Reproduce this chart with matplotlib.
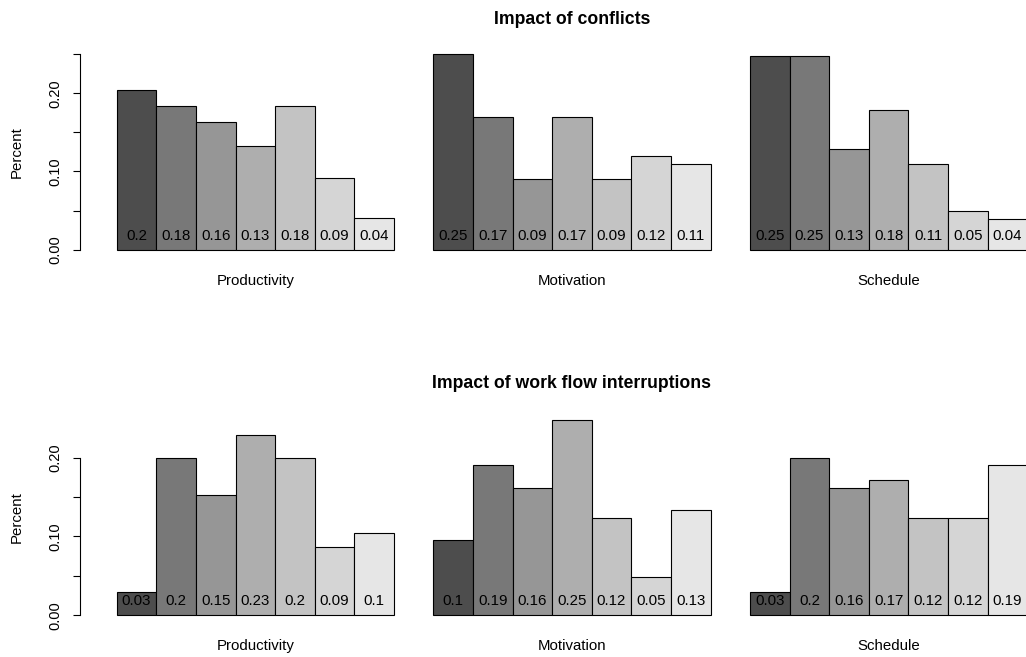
import numpy as np
import matplotlib
matplotlib.use("Agg")
import matplotlib.pyplot as plt

plt.rcParams['font.family'] = ['Liberation Sans', 'DejaVu Sans']

# share of answers per scale point (7-point scale)
aspects = ["Productivity", "Motivation", "Schedule"]

conf_prod = [0.204, 0.184, 0.163, 0.133, 0.184, 0.092, 0.041]
conf_motiv = [0.25, 0.17, 0.09, 0.17, 0.09, 0.12, 0.11]
conf_sched = [0.248, 0.248, 0.129, 0.178, 0.109, 0.049, 0.039]

intr_prod = [0.029, 0.200, 0.152, 0.229, 0.200, 0.086, 0.104]
intr_motiv = [0.096, 0.190, 0.162, 0.248, 0.124, 0.048, 0.133]
intr_sched = [0.029, 0.200, 0.162, 0.171, 0.124, 0.124, 0.190]

titles = ["Impact of conflicts", "Impact of work flow interruptions"]
rows = [[conf_prod, conf_motiv, conf_sched],
        [intr_prod, intr_motiv, intr_sched]]

W, H = 1026, 657
fig = plt.figure(figsize=(W / 100, H / 100), dpi=100)

# gray.colors(7) like R: 0.3 .. 0.9 with gamma 2.2
lv = np.linspace(0.3 ** 2.2, 0.9 ** 2.2, 7) ** (1 / 2.2)
cols = [(g, g, g) for g in lv]

bar_w = 39.6
lefts = [116.7, 433.3, 750.0]
bottoms = [249.7, 615.3]
ax_h = 195.6
title_y = [19, 384]
fs = 10.8


def fx(px):
    return px / W


def fy(py):
    return 1 - py / H


for r, row in enumerate(rows):
    ymax = max(max(v) for v in row)
    for c, vals in enumerate(row):
        ax = fig.add_axes([fx(lefts[c]), fy(bottoms[r]),
                           7 * bar_w / W, ax_h / H])
        x = np.arange(len(vals))
        bars = ax.bar(x, vals, width=1.0, align='edge', color=cols,
                      edgecolor='black', linewidth=0.8)
        for b in bars:
            b.set_clip_on(False)
        for i, v in enumerate(vals):
            ax.text(i + 0.5, 0.018, f"{round(v, 2):g}", ha='center',
                    va='center', fontsize=fs)
        ax.set_xlim(0, 7)
        ax.set_ylim(0, ymax)
        ax.set_xticks([])
        for s in ['top', 'right', 'bottom']:
            ax.spines[s].set_visible(False)
        if c == 0:
            ticks = np.arange(0, ymax + 1e-9, 0.05)
            ax.spines['left'].set_position(('outward', 26.4))
            ax.spines['left'].set_bounds(0, ticks[-1])
            ax.spines['left'].set_linewidth(0.8)
            ax.set_yticks(ticks)
            ax.set_yticklabels([f"{t:.2f}" if i % 2 == 0 else ""
                                for i, t in enumerate(ticks)],
                               rotation=90, va='center', fontsize=fs - 0.3)
            ax.tick_params(axis='y', length=5, width=0.8, pad=8)
            fig.text(fx(17), fy(bottoms[r] - ax_h / 2), "Percent",
                     rotation=90, ha='center', va='center', fontsize=fs)
        else:
            ax.spines['left'].set_visible(False)
            ax.set_yticks([])
        fig.text(fx(lefts[c] + 3.5 * bar_w), fy(bottoms[r] + 31), aspects[c],
                 ha='center', va='center', fontsize=fs)
    fig.text(fx(lefts[1] + 3.5 * bar_w), fy(title_y[r]), titles[r],
             ha='center', va='center', fontsize=12.7, fontweight='bold')

fig.savefig("out.png", dpi=100)
